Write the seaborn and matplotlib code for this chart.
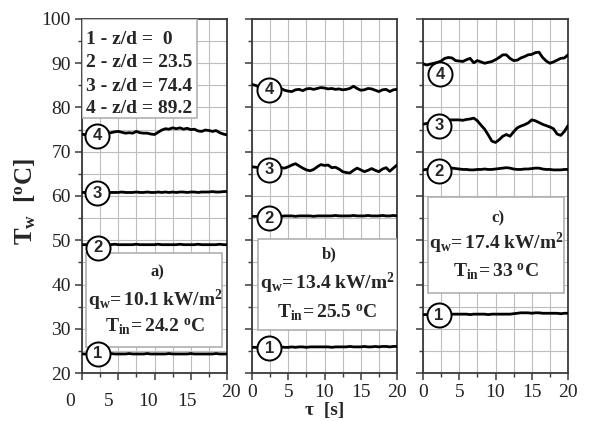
import matplotlib
matplotlib.use("Agg")
import matplotlib.pyplot as plt
import pandas as pd
import seaborn as sns
from matplotlib.patches import Rectangle
from matplotlib.ticker import MultipleLocator
from matplotlib.transforms import ScaledTranslation

# ---- data: wall temperature T_w [°C] versus time tau [s] ----
time_s = [0, 0.5, 1, 1.5, 2, 2.5, 3, 3.5, 4, 4.5,
          5, 5.5, 6, 6.5, 7, 7.5, 8, 8.5, 9, 9.5,
          10, 10.5, 11, 11.5, 12, 12.5, 13, 13.5, 14, 14.5,
          15, 15.5, 16, 16.5, 17, 17.5, 18, 18.5, 19, 19.5,
          20]

# panel a) q_w = 10.1 kW/m2
a1 = [24.3, 24.3, 24.3, 24.3, 24.4, 24.3, 24.3, 24.3, 24.4, 24.3,
      24.3, 24.3, 24.3, 24.4, 24.3, 24.3, 24.3, 24.3, 24.4, 24.3,
      24.3, 24.3, 24.3, 24.3, 24.4, 24.3, 24.3, 24.3, 24.3, 24.3,
      24.4, 24.3, 24.3, 24.3, 24.3, 24.3, 24.3, 24.4, 24.3, 24.3,
      24.3]
a2 = [49.0, 49.0, 49.0, 49.0, 49.1, 49.0, 49.0, 49.0, 49.0, 49.1,
      49.0, 49.0, 49.0, 49.0, 49.0, 49.1, 49.0, 49.0, 49.0, 49.0,
      49.0, 49.1, 49.0, 49.0, 49.0, 49.0, 49.0, 49.1, 49.0, 49.0,
      49.0, 49.0, 49.1, 49.0, 49.0, 49.0, 49.0, 49.0, 49.1, 49.0,
      49.0]
a3 = [60.8, 60.8, 60.8, 60.8, 60.8, 60.9, 60.8, 60.8, 60.8, 60.8,
      60.8, 60.9, 60.8, 60.8, 60.8, 60.9, 60.8, 60.8, 60.9, 60.8,
      60.8, 60.9, 60.8, 60.9, 60.8, 60.9, 60.8, 60.9, 60.9, 60.8,
      60.9, 60.9, 60.8, 60.9, 60.9, 60.9, 61.0, 60.9, 60.9, 61.0,
      61.0]
a4 = [74.0, 73.8, 74.1, 74.2, 74.3, 74.2, 74.3, 74.2, 74.3, 74.5,
      74.6, 74.4, 74.2, 74.3, 74.2, 74.6, 74.3, 74.2, 74.2, 74.0,
      73.9, 74.4, 74.9, 75.2, 75.1, 75.4, 75.2, 75.4, 75.1, 75.3,
      75.0, 75.1, 74.7, 74.6, 74.9, 74.8, 74.6, 74.8, 74.3, 74.0,
      73.8]

# panel b) q_w = 13.4 kW/m2
b1 = [25.8, 25.8, 25.8, 25.8, 25.8, 25.8, 25.8, 25.8, 25.9, 25.8,
      25.8, 25.9, 25.8, 25.9, 25.9, 25.8, 25.9, 25.9, 25.9, 25.9,
      25.9, 25.9, 25.8, 25.9, 25.9, 25.9, 25.9, 26.0, 25.9, 25.9,
      25.9, 26.0, 25.9, 25.9, 26.0, 25.9, 26.0, 26.0, 25.9, 26.0,
      26.0]
b2 = [55.4, 55.4, 55.4, 55.4, 55.5, 55.4, 55.4, 55.5, 55.4, 55.5,
      55.5, 55.5, 55.4, 55.5, 55.5, 55.5, 55.5, 55.4, 55.5, 55.5,
      55.5, 55.5, 55.5, 55.6, 55.5, 55.5, 55.5, 55.5, 55.6, 55.5,
      55.5, 55.5, 55.6, 55.5, 55.5, 55.5, 55.6, 55.5, 55.5, 55.6,
      55.5]
b3 = [66.6, 66.5, 66.4, 66.4, 66.4, 66.4, 66.4, 66.4, 66.4, 66.3,
      66.6, 67.0, 67.3, 66.8, 66.3, 65.9, 65.7, 66.0, 66.6, 67.1,
      66.9, 67.0, 66.4, 66.5, 66.1, 65.5, 65.3, 65.2, 65.8, 66.3,
      65.9, 65.5, 65.8, 66.2, 65.8, 65.5, 66.1, 66.4, 65.6, 66.3,
      67.0]
b4 = [85.2, 85.0, 84.6, 84.4, 84.3, 84.2, 84.2, 84.3, 84.3, 83.9,
      83.7, 83.6, 84.0, 84.1, 83.8, 84.2, 84.3, 84.1, 84.3, 84.5,
      84.4, 84.2, 84.3, 84.1, 84.2, 84.0, 84.1, 84.3, 84.8, 84.3,
      83.9, 84.0, 84.3, 84.2, 83.9, 83.6, 84.0, 84.1, 83.6, 84.0,
      84.1]

# panel c) q_w = 17.4 kW/m2
c1 = [33.2, 33.2, 33.3, 33.3, 33.3, 33.3, 33.2, 33.3, 33.3, 33.3,
      33.3, 33.3, 33.3, 33.2, 33.3, 33.3, 33.3, 33.3, 33.2, 33.3,
      33.3, 33.3, 33.3, 33.3, 33.3, 33.4, 33.5, 33.6, 33.6, 33.6,
      33.5, 33.6, 33.6, 33.5, 33.5, 33.5, 33.5, 33.5, 33.4, 33.5,
      33.5]
c2 = [65.9, 66.0, 66.1, 66.2, 66.3, 66.3, 66.3, 66.4, 66.3, 66.2,
      66.1, 66.0, 66.0, 65.9, 65.9, 66.0, 66.0, 66.1, 66.0, 66.0,
      66.1, 66.2, 66.3, 66.4, 66.3, 66.1, 66.0, 66.0, 66.1, 66.1,
      66.2, 66.3, 66.3, 66.1, 66.0, 66.0, 65.9, 65.9, 65.9, 66.0,
      66.0]
c3 = [76.2, 76.4, 76.6, 76.8, 77.0, 77.1, 77.2, 77.2, 77.2, 77.2,
      77.2, 77.1, 77.3, 77.4, 77.6, 77.0, 76.0, 75.1, 73.8, 72.4,
      72.1, 72.7, 73.5, 73.9, 73.5, 74.5, 75.4, 75.8, 76.1, 76.5,
      77.2, 77.0, 76.6, 76.2, 75.9, 75.6, 75.2, 74.0, 73.7, 74.6,
      75.9]
c4 = [89.9, 89.6, 89.8, 90.0, 90.2, 90.5, 91.1, 91.3, 91.2, 90.6,
      90.5, 90.4, 90.8, 91.1, 90.1, 90.6, 90.3, 90.0, 90.2, 90.4,
      90.8, 91.3, 91.9, 91.9, 91.1, 90.6, 90.7, 91.2, 91.5, 91.9,
      92.0, 92.4, 92.5, 91.3, 90.5, 90.0, 90.3, 90.7, 91.1, 91.2,
      91.9]

position_labels = ["1 - z/d =  0", "2 - z/d = 23.5", "3 - z/d = 74.4", "4 - z/d = 89.2"]
panel_tags = ["a)", "b)", "c)"]
heat_flux = ["10.1", "13.4", "17.4"]
inlet_temp = ["24.2", "25.5", "33"]
x_ticks = [0, 5, 10, 15, 20]
y_ticks = [20, 30, 40, 50, 60, 70, 80, 90, 100]

series = {
    ("a", 1): a1, ("a", 2): a2, ("a", 3): a3, ("a", 4): a4,
    ("b", 1): b1, ("b", 2): b2, ("b", 3): b3, ("b", 4): b4,
    ("c", 1): c1, ("c", 2): c2, ("c", 3): c3, ("c", 4): c4,
}
rows = []
for (panel, curve), values in series.items():
    for t, v in zip(time_s, values):
        rows.append((panel, curve, t, v))
df = pd.DataFrame(rows, columns=["panel", "curve", "time", "Tw"])

# ---- styling ----
sns.set_style("white")
plt.rcParams["font.family"] = ["Liberation Serif", "DejaVu Serif"]
plt.rcParams["mathtext.fontset"] = "custom"
plt.rcParams["mathtext.rm"] = "Liberation Serif"
plt.rcParams["mathtext.it"] = "Liberation Serif:italic"
plt.rcParams["mathtext.bf"] = "Liberation Serif:bold"

W, H = 589, 421
fig = plt.figure(figsize=(W / 100, H / 100), dpi=100)
fig.patch.set_facecolor("white")

lefts_px = [82, 252, 423]
bottom_px, top_px = 373, 19
width_px = 145

# circled curve numbers: (x, y) anchor in data units
markers = {
    "a": {4: (2.1, 73.6), 3: (2.1, 60.6), 2: (2.2, 48.3), 1: (2.2, 24.3)},
    "b": {4: (2.4, 84.0), 3: (2.4, 65.9), 2: (2.4, 55.0), 1: (2.4, 25.6)},
    "c": {4: (2.4, 87.5), 3: (2.2, 75.9), 2: (2.2, 65.6), 1: (2.2, 33.1)},
}
# parameter boxes: (x0, y0, x1, y1) and text rows (x, y_tag, y_q, y_T)
boxes = {
    "a": ((0.55, 25.9, 19.3, 47.1), (10.1, 42.8, 36.5, 30.5)),
    "b": ((0.8, 29.7, 20.0, 50.3), (10.4, 46.7, 40.3, 33.6)),
    "c": ((0.7, 38.1, 19.4, 59.8), (10.1, 55.0, 49.4, 42.8)),
}

axes = []
for i, panel in enumerate(["a", "b", "c"]):
    ax = fig.add_axes([lefts_px[i] / W, 1 - bottom_px / H,
                       width_px / W, (bottom_px - top_px) / H])
    axes.append(ax)
    sub = df[df["panel"] == panel]
    sns.lineplot(data=sub, x="time", y="Tw", units="curve", estimator=None,
                 color="black", linewidth=2.0, ax=ax, legend=False, zorder=4)

    ax.set_xlim(0, 20)
    ax.set_ylim(20, 100)
    ax.set_xticks(x_ticks)
    ax.set_yticks(y_ticks)
    ax.xaxis.set_minor_locator(MultipleLocator(2.5))
    ax.yaxis.set_minor_locator(MultipleLocator(5))
    ax.set_axisbelow(True)
    ax.grid(which="both", color="#bdbdbd", linewidth=0.8)
    ax.set_xlabel("")
    ax.set_ylabel("")
    for sp in ax.spines.values():
        sp.set_color("#3a3a3a")
        sp.set_linewidth(1.3)
    ax.tick_params(which="major", direction="out", length=5, width=1.1,
                   color="#3a3a3a", labelsize=14, labelcolor="#222222", pad=3,
                   left=True, bottom=True, labelleft=(i == 0))
    ax.tick_params(which="minor", direction="out", length=3, width=1.0,
                   color="#3a3a3a", left=True, bottom=True)

    # parameter box
    (x0, y0, x1, y1), (tx, ytag, yq, yT) = boxes[panel]
    ax.add_patch(Rectangle((x0, y0), x1 - x0, y1 - y0, facecolor="white",
                           edgecolor="#b0b0b0", linewidth=1.2, zorder=3))
    ax.text(tx + 0.3, ytag, panel_tags[i], ha="center", va="center",
            fontsize=12, fontweight="bold", zorder=6)
    ax.text(tx, yq, r"$\mathbf{q_w\!= %s\ kW/m^2}$" % heat_flux[i],
            ha="center", va="center", fontsize=14, zorder=6)
    ax.text(tx, yT, r"$\mathbf{T_{in}\!= %s\ {}^oC}$" % inlet_temp[i],
            ha="center", va="center", fontsize=14, zorder=6)

    # circled curve numbers
    for k, (mx, my) in markers[panel].items():
        ax.scatter([mx], [my], s=300, facecolor="white", edgecolor="black",
                   linewidth=1.4, zorder=7)
        ax.text(mx, my, str(k), ha="center", va="center", fontsize=12,
                fontweight="bold", family="Liberation Sans", zorder=8)

# legend of axial positions in panel a
ax_a = axes[0]
ax_a.add_patch(Rectangle((0, 77.6), 15.9, 22.4, facecolor="white",
                         edgecolor="#b0b0b0", linewidth=1.2, zorder=3))
for lab, ly in zip(position_labels, [95.4, 90.1, 84.8, 79.7]):
    ax_a.text(0.5, ly, lab, ha="left", va="center", fontsize=14,
              fontweight="bold", zorder=6)

# staggered time labels under panel a
fig.canvas.draw()
shifts = [(-12, -9), (-10, -9), (-6, -9), (-3.5, -9), (4, 0)]
for lab, (dx, dy) in zip(ax_a.get_xticklabels(), shifts):
    lab.set_transform(lab.get_transform() +
                      ScaledTranslation(dx / 100, dy / 100, fig.dpi_scale_trans))

fig.text(0.043, 0.52, r"$\mathbf{T_w\ \ [^oC]}$", rotation=90,
         ha="center", va="center", fontsize=18)
fig.text(324.5 / W, 1 - 410 / H, "τ  [s]", ha="center", va="center",
         fontsize=14, fontweight="bold")

fig.savefig("out.png", dpi=100, facecolor="white")
